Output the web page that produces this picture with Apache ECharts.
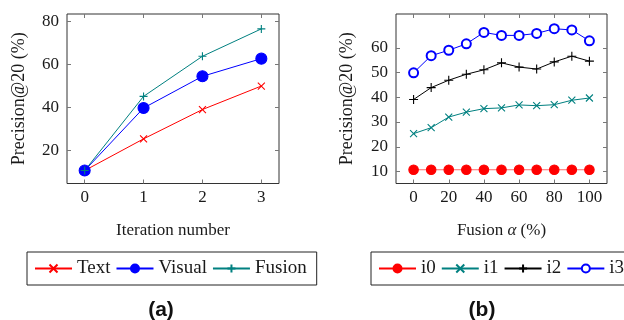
<!DOCTYPE html>
<html>
<head>
<meta charset="utf-8">
<script src="https://cdn.jsdelivr.net/npm/echarts@6/dist/echarts.min.js"></script>
<style>
  html, body { margin: 0; padding: 0; background: #fff; }
  #chart { width: 624px; height: 320px; }
</style>
</head>
<body>
<div id="chart"></div>
<script>
// (a) precision per iteration
const iterations = [0, 1, 2, 3];
const textVals = [10.7, 25.4, 39.0, 49.9];
const visualVals = [10.7, 39.7, 54.4, 62.6];
const fusionVals = [10.7, 45.1, 63.7, 76.4];
const ticksA_x = [0, 1, 2, 3];
const ticksA_y = [20, 40, 60, 80];

// (b) precision per fusion alpha
const alphas = [0, 10, 20, 30, 40, 50, 60, 70, 80, 90, 100];
const i0Vals = [10.7, 10.7, 10.7, 10.7, 10.7, 10.7, 10.7, 10.7, 10.7, 10.7, 10.7];
const i1Vals = [25.3, 27.7, 32.0, 34.0, 35.4, 35.7, 36.9, 36.6, 37.0, 38.8, 39.7];
const i2Vals = [39.1, 43.9, 46.9, 49.3, 51.1, 53.9, 52.2, 51.4, 54.3, 56.6, 54.6];
const i3Vals = [49.9, 56.8, 59.0, 61.6, 66.2, 65.0, 65.0, 65.8, 67.7, 67.2, 62.8];
const ticksB_x = [0, 20, 40, 60, 80, 100];
const ticksB_y = [10, 20, 30, 40, 50, 60];

const serif = "'Liberation Serif', 'DejaVu Serif', serif";
const crossPath = "path://M0,0L10,10M10,0L0,10";
const plusPath = "path://M5,0L5,10M0,5L10,5";

function pairs(xs, ys) {
  return xs.map((x, i) => [x, ys[i]]);
}

// 轴的公共样式：刻度朝内，四边都有
function axis(gridIndex, position, min, max, ticks, showLabel, margin) {
  return {
    type: "value",
    gridIndex: gridIndex,
    position: position,
    min: min,
    max: max,
    axisLine: { show: false, onZero: false },
    splitLine: { show: false },
    axisTick: {
      show: true, inside: true, length: 4,
      customValues: ticks,
      lineStyle: { color: "#777", width: 1 }
    },
    axisLabel: {
      show: showLabel,
      customValues: ticks,
      margin: margin,
      color: "#1a1a1a",
      fontFamily: serif,
      fontSize: 17
    }
  };
}

function lineSeries(name, xi, yi, data, color, symbol, size, extra) {
  return Object.assign({
    name: name,
    type: "line",
    xAxisIndex: xi,
    yAxisIndex: yi,
    data: data,
    symbol: symbol,
    symbolSize: size,
    lineStyle: { color: color, width: 1 },
    itemStyle: { color: color, borderColor: color, borderWidth: 1.1 },
    emphasis: { disabled: true },
    animation: false
  }, extra || {});
}

const chart = echarts.init(document.getElementById("chart"));

const nameStyle = { fontFamily: serif, fontSize: 17, color: "#1a1a1a" };

const xa0 = axis(0, "bottom", -0.3, 3.3, ticksA_x, true, 6);
xa0.name = "Iteration number";
xa0.nameLocation = "middle";
xa0.nameGap = 39;
xa0.nameTextStyle = nameStyle;

const xa1 = axis(1, "bottom", -10, 110, ticksB_x, true, 6);
xa1.name = "Fusion {i|α} (%)";
xa1.nameLocation = "middle";
xa1.nameGap = 39;
xa1.nameTextStyle = Object.assign({}, nameStyle, {
  rich: { i: { fontFamily: serif, fontStyle: "italic", fontSize: 17, color: "#1a1a1a" } }
});

const ya0 = axis(0, "left", 4.7, 83.3, ticksA_y, true, 8);
ya0.name = "Precision@20 (%)";
ya0.nameLocation = "middle";
ya0.nameGap = 39;
ya0.nameTextStyle = { fontFamily: serif, fontSize: 18, color: "#1a1a1a" };

const ya1 = axis(1, "left", 5.15, 73.65, ticksB_y, true, 8);
ya1.name = "Precision@20 (%)";
ya1.nameLocation = "middle";
ya1.nameGap = 40;
ya1.nameTextStyle = { fontFamily: serif, fontSize: 18, color: "#1a1a1a" };

const legendBase = {
  orient: "horizontal",
  top: 252,
  itemWidth: 37,
  itemHeight: 10,
  itemGap: 5,
  borderColor: "#222",
  borderWidth: 1,
  textStyle: { fontFamily: serif, fontSize: 19, color: "#1a1a1a" },
  selectedMode: false
};

const option = {
  backgroundColor: "#fff",
  animation: false,
  grid: [
    { left: 67, top: 14, width: 212, height: 169.5, show: true, borderColor: "#333", borderWidth: 1 },
    { left: 396, top: 14, width: 211, height: 169.5, show: true, borderColor: "#333", borderWidth: 1 }
  ],
  xAxis: [
    xa0,
    axis(0, "top", -0.3, 3.3, ticksA_x, false, 6),
    xa1,
    axis(1, "top", -10, 110, ticksB_x, false, 6)
  ],
  yAxis: [
    ya0,
    axis(0, "right", 4.7, 83.3, ticksA_y, false, 8),
    ya1,
    axis(1, "right", 5.15, 73.65, ticksB_y, false, 8)
  ],
  legend: [
    Object.assign({}, legendBase, {
      data: ["Text", "Visual", "Fusion"],
      left: 27,
      padding: [7, 10, 7, 7]
    }),
    Object.assign({}, legendBase, {
      data: [
        { name: "i0", lineStyle: { color: "#ff0000" } },
        "i1", "i2", "i3"
      ],
      left: 371,
      width: 330,
      padding: [7, 10, 7, 7]
    })
  ],
  graphic: [
    {
      type: "text", x: 161, y: 310,
      style: {
        text: "(a)", fontFamily: "'Liberation Sans', Arial, sans-serif", fontWeight: "bold",
        fontSize: 21, fill: "#111", textAlign: "center", textVerticalAlign: "middle"
      }
    },
    {
      type: "text", x: 482, y: 310,
      style: {
        text: "(b)", fontFamily: "'Liberation Sans', Arial, sans-serif", fontWeight: "bold",
        fontSize: 21, fill: "#111", textAlign: "center", textVerticalAlign: "middle"
      }
    }
  ],
  series: [
    lineSeries("Text", 0, 0, pairs(iterations, textVals), "#ff0000", crossPath, 7),
    lineSeries("Visual", 0, 0, pairs(iterations, visualVals), "#0000ff", "circle", 11),
    lineSeries("Fusion", 0, 0, pairs(iterations, fusionVals), "#008080", plusPath, 8),
    lineSeries("i0", 2, 2, pairs(alphas, i0Vals), "#ff0000", "circle", 9.5, {
      lineStyle: { color: "#ff6a6a", width: 1.2 }
    }),
    lineSeries("i1", 2, 2, pairs(alphas, i1Vals), "#008080", crossPath, 7),
    lineSeries("i2", 2, 2, pairs(alphas, i2Vals), "#000000", plusPath, 9),
    lineSeries("i3", 2, 2, pairs(alphas, i3Vals), "#0000ff", "emptyCircle", 9, {
      itemStyle: { color: "#0000ff", borderColor: "#0000ff", borderWidth: 1 }
    })
  ]
};

chart.setOption(option);
window.addEventListener("resize", () => {
  chart.resize();
});
</script>
</body>
</html>
